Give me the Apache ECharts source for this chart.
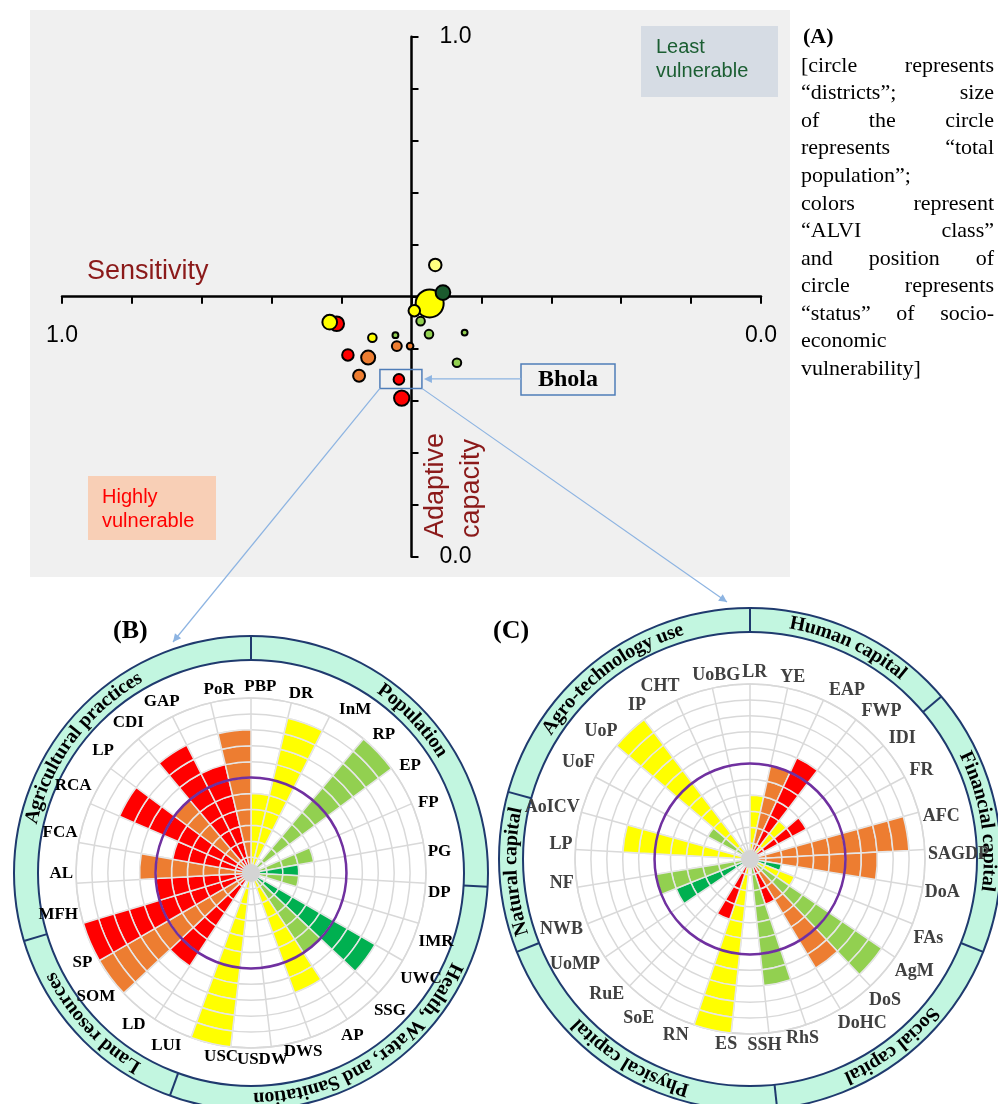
<!DOCTYPE html>
<html>
<head>
<meta charset="utf-8">
<script src="https://cdn.jsdelivr.net/npm/echarts@6/dist/echarts.min.js"></script>
<style>
html, body { margin: 0; padding: 0; background: #fff; }
#chart { width: 998px; height: 1104px; }
</style>
</head>
<body>
<div id="chart"></div>
<script>
// ======================
// DATA
// ======================

// (A) districts: sensitivity, adaptive capacity, population (million), ALVI class
const districtSens  = [0.466, 0.474, 0.455, 0.496, 0.487, 0.607, 0.617, 0.556, 0.523, 0.475, 0.424, 0.521, 0.502, 0.591, 0.562, 0.435, 0.575, 0.518, 0.514];
const districtAdapt = [0.561, 0.487, 0.508, 0.473, 0.453, 0.448, 0.451, 0.421, 0.426, 0.428, 0.431, 0.405, 0.405, 0.388, 0.383, 0.373, 0.348, 0.341, 0.305];
const districtPop   = [3.2, 16.0, 4.4, 2.7, 1.5, 4.4, 4.4, 1.5, 0.7, 1.5, 0.7, 2.0, 0.9, 2.7, 4.0, 1.5, 2.9, 2.3, 4.8];
const districtClass = ['LM', 'M', 'VL', 'M', 'L', 'VH', 'M', 'M', 'L', 'L', 'L', 'H', 'H', 'VH', 'H', 'L', 'H', 'VH', 'VH'];
const BHOLA = 17;

// (B) sensitivity indicators (score in rings of 11)
const labelsB = ['PBP', 'DR', 'InM', 'RP', 'EP', 'FP', 'PG', 'DP', 'IMR', 'UWC', 'SSG', 'AP', 'DWS', 'USDW',
                 'USC', 'LUI', 'LD', 'SOM', 'SP', 'MFH', 'AL', 'FCA', 'RCA', 'LP', 'CDI', 'GAP', 'PoR'];
const ringsB  = [5, 10, 0, 11, 0, 4, 3, 3, 0, 9, 6, 8, 0, 0, 11, 0, 7, 11, 11, 6, 7, 5, 9, 6, 9, 7, 9];
const classB  = ['M', 'M', '', 'L', '', 'L', 'VL', 'L', '', 'VL', 'L', 'M', '', '', 'M', '', 'VH', 'H', 'VH',
                 'VH', 'H', 'VH', 'VH', 'H', 'VH', 'VH', 'H'];
const groupsB     = ['Population', 'Health, Water, and Sanitation', 'Land resources', 'Agricultural practices'];
const groupStartB = [0, 7, 15, 19];

// (C) adaptive capacity indicators
const labelsC = ['LR', 'YE', 'EAP', 'FWP', 'IDI', 'FR', 'AFC', 'SAGDP', 'DoA', 'FAs', 'AgM', 'DoS', 'DoHC', 'RhS',
                 'SSH', 'ES', 'RN', 'SoE', 'RuE', 'UoMP', 'NWB', 'NF', 'LP', 'AoICV', 'UoF', 'UoP', 'IP', 'CHT', 'UoBG'];
const ringsC  = [4, 6, 7, 3, 4, 0, 10, 8, 2, 3, 10, 8, 3, 8, 0, 11, 4, 0, 0, 5, 6, 0, 8, 0, 3, 11, 0, 0, 0];
const classC  = ['M', 'H', 'VH', 'M', 'VH', '', 'H', 'H', 'VL', 'M', 'L', 'H', 'VH', 'L', '', 'M', 'VH', '', '',
                 'VL', 'L', '', 'M', '', 'L', 'M', '', '', ''];
const groupsC     = ['Human capital', 'Financial capital', 'Social capital', 'Physical capital', 'Natural capital', 'Agro-technology use'];
const groupStartC = [0, 4, 9, 14, 20, 23];

const RING_MAX = 11;
const THRESHOLD = 6;

const paraLines = ['[circle represents', '“districts”; size', 'of the circle', 'represents “total', 'population”;',
                   'colors represent', '“ALVI class”', 'and position of', 'circle represents', '“status” of socio-',
                   'economic', 'vulnerability]'];

// ======================
// STYLE
// ======================

const BAR_COLORS = { VH: '#FF0000', H: '#ED7D31', M: '#FFFF00', L: '#92D050', VL: '#00B050' };
const BUBBLE_COLORS = { VH: '#FF0000', H: '#ED7D31', M: '#FFFF00', LM: '#FFFF80', L: '#92D050', VL: '#1B5B2E' };
const DARK_RED = '#8B1A1A';
const SERIF = '"Liberation Serif", "Times New Roman", serif';
const SANS = '"Liberation Sans", Arial, sans-serif';
const GRID_GRAY = '#D9D9D9';
const NAVY = '#1F3A6E';
const MINT = '#C2F6E0';

const PANEL_B = { center: [251, 873], band: [213, 237], labelColor: '#000', labelSize: 17, shift: 3, textR: 225 };
const PANEL_C = { center: [750, 859], band: [227, 251], labelColor: '#404040', labelSize: 18, shift: 1.5, textR: 239 };
const POLAR_R = 175;

const chart = echarts.init(document.getElementById('chart'));
const mctx = document.createElement('canvas').getContext('2d');

// ======================
// POLAR PANELS
// ======================

const polar = [], angleAxis = [], radiusAxis = [], series = [];

function addPolarPanel(panel, labels, rings, classes, stackName) {
    const barIdx = polar.length;
    polar.push({ center: panel.center, radius: POLAR_R }, { center: panel.center, radius: POLAR_R });

    angleAxis.push({
        polarIndex: barIdx, type: 'category', data: labels, boundaryGap: true, startAngle: 90,
        axisLine: { lineStyle: { color: GRID_GRAY, width: 1.5 } },
        axisTick: { show: false }, axisLabel: { show: false },
        splitLine: { show: true, lineStyle: { color: GRID_GRAY, width: 1.5 } }
    }, {
        polarIndex: barIdx + 1, type: 'category', data: labels, boundaryGap: false,
        startAngle: 90 - panel.shift, z: 30,
        axisLine: { show: false }, axisTick: { show: false }, splitLine: { show: false },
        axisLabel: {
            interval: 0, margin: 3, color: panel.labelColor, fontFamily: SERIF,
            fontWeight: 'bold', fontSize: panel.labelSize
        }
    });

    radiusAxis.push({
        polarIndex: barIdx, type: 'value', min: 0, max: RING_MAX, interval: 1,
        axisLine: { show: false }, axisTick: { show: false }, axisLabel: { show: false },
        splitLine: { show: true, lineStyle: { color: GRID_GRAY, width: 1.5 } }
    }, {
        polarIndex: barIdx + 1, type: 'value', min: 0, max: RING_MAX, show: false
    });

    // each ring is one stacked segment, as in the original doughnut layout
    for (let j = 0; j < RING_MAX; j++) {
        series.push({
            type: 'bar', coordinateSystem: 'polar', polarIndex: barIdx, stack: stackName,
            barCategoryGap: '0%', silent: true,
            itemStyle: { borderColor: '#E6E6E6', borderWidth: 1.5 },
            data: rings.map((v, i) => v > j
                ? { value: 1, itemStyle: { color: BAR_COLORS[classes[i]] } }
                : '-')
        });
    }
    return barIdx;
}

const polarB = addPolarPanel(PANEL_B, labelsB, ringsB, classB, 'B');
const polarC = addPolarPanel(PANEL_C, labelsC, ringsC, classC, 'C');

// ======================
// SCATTER (A)
// ======================

const axisFormatter = v => (v < 0.001 || v > 0.999) ? v.toFixed(1) : '';

series.push({
    type: 'scatter',
    xAxisIndex: 0, yAxisIndex: 0, z: 5,
    data: districtSens.map((s, i) => [s, districtAdapt[i], districtPop[i], districtClass[i]]),
    symbolSize: v => 7 * Math.sqrt(v[2]),
    itemStyle: {
        color: p => BUBBLE_COLORS[p.data[3]],
        borderColor: '#000', borderWidth: 2, opacity: 1
    }
});
const scatterIdx = series.length - 1;

const option = {
    animation: false,
    backgroundColor: '#fff',
    grid: { left: 62, right: 237, top: 36.7, bottom: 547.3, outerBoundsMode: 'none', containLabel: false },
    xAxis: {
        type: 'value', min: 0, max: 1, interval: 0.1, inverse: true,
        position: 'bottom', offset: -260,
        axisLine: { onZero: false, lineStyle: { color: '#000', width: 2.5 } },
        axisTick: { length: 7, lineStyle: { color: '#000', width: 2 } },
        axisLabel: { formatter: axisFormatter, showMinLabel: true, showMaxLabel: true, margin: 27,
                     color: '#000', fontFamily: SANS, fontSize: 23 },
        splitLine: { show: false }
    },
    yAxis: {
        type: 'value', min: 0, max: 1, interval: 0.1,
        position: 'left', offset: -349.5,
        axisLine: { onZero: false, lineStyle: { color: '#000', width: 2.5 } },
        axisTick: { inside: true, length: 7, lineStyle: { color: '#000', width: 2 } },
        axisLabel: { inside: true, formatter: axisFormatter, showMinLabel: true, showMaxLabel: true, margin: 28,
                     color: '#000', fontFamily: SANS, fontSize: 23 },
        splitLine: { show: false }
    },
    polar, angleAxis, radiusAxis, series
};

chart.setOption(option);

// ======================
// ANNOTATIONS
// ======================

function textEl(x, y, text, font, fill, extra) {
    return Object.assign({
        type: 'text', x, y, z: 20,
        style: { text, font, fill, align: 'left', verticalAlign: 'middle' }
    }, extra || {});
}

function arrowHead(tip, from, color) {
    const a = Math.atan2(tip[1] - from[1], tip[0] - from[0]);
    const L = 8, W = 4;
    const bx = tip[0] - L * Math.cos(a), by = tip[1] - L * Math.sin(a);
    return {
        type: 'polygon', z: 20,
        shape: { points: [tip, [bx + W * Math.sin(a), by - W * Math.cos(a)], [bx - W * Math.sin(a), by + W * Math.cos(a)]] },
        style: { fill: color }
    };
}

function arcText(cx, cy, R, midDeg, text, font, fill) {
    mctx.font = font;
    const chars = [...text];
    const widths = chars.map(ch => mctx.measureText(ch).width);
    const total = widths.reduce((a, b) => a + b, 0);
    let acc = -total / 2;
    return chars.map((ch, k) => {
        const ang = midDeg * Math.PI / 180 + (acc + widths[k] / 2) / R;
        acc += widths[k];
        return {
            type: 'text', z: 22, x: cx + R * Math.sin(ang), y: cy - R * Math.cos(ang), rotation: -ang,
            style: { text: ch, font, fill, align: 'center', verticalAlign: 'middle' }
        };
    });
}

function bandEls(panel, labels, groups, starts, polarIndex) {
    const [cx, cy] = panel.center;
    const step = 360 / labels.length;
    const els = [];
    els.push({
        type: 'ring', z: 1, shape: { cx, cy, r: panel.band[1], r0: panel.band[0] },
        style: { fill: MINT, stroke: NAVY, lineWidth: 2 }
    });
    starts.forEach((s, g) => {
        const a0 = s * step;
        const a1 = (g + 1 < starts.length ? starts[g + 1] : labels.length) * step;
        const rad = a0 * Math.PI / 180;
        els.push({
            type: 'line', z: 2,
            shape: {
                x1: cx + panel.band[0] * Math.sin(rad), y1: cy - panel.band[0] * Math.cos(rad),
                x2: cx + panel.band[1] * Math.sin(rad), y2: cy - panel.band[1] * Math.cos(rad)
            },
            style: { stroke: NAVY, lineWidth: 2 }
        });
        els.push(...arcText(cx, cy, panel.textR, (a0 + a1) / 2, groups[g], 'bold 20px ' + SERIF, '#000'));
    });
    // threshold ring and hub
    const p = chart.convertToPixel({ polarIndex }, [THRESHOLD, 0]);
    const rT = p ? Math.hypot(p[0] - cx, p[1] - cy) : POLAR_R * THRESHOLD / RING_MAX;
    els.push({
        type: 'circle', z: 12, shape: { cx, cy, r: rT },
        style: { fill: 'none', stroke: '#7030A0', lineWidth: 2.5 }
    });
    els.push({ type: 'circle', z: 12, shape: { cx, cy, r: 9 }, style: { fill: '#D4D4D4' } });
    return els;
}

const graphic = [];

// panel A background and boxes
graphic.push({ type: 'rect', z: -5, shape: { x: 30, y: 10, width: 760, height: 567 }, style: { fill: '#F0F0F0' } });
graphic.push({ type: 'rect', z: 1, shape: { x: 641, y: 26, width: 137, height: 71 }, style: { fill: '#D6DCE4' } });
graphic.push(textEl(656, 47, 'Least', '20px ' + SANS, '#1B5E32'));
graphic.push(textEl(656, 71, 'vulnerable', '20px ' + SANS, '#1B5E32'));
graphic.push({ type: 'rect', z: 1, shape: { x: 88, y: 476, width: 128, height: 64 }, style: { fill: '#F8CFB6' } });
graphic.push(textEl(102, 497, 'Highly', '20px ' + SANS, '#FF0000'));
graphic.push(textEl(102, 521, 'vulnerable', '20px ' + SANS, '#FF0000'));

// axis titles
graphic.push(textEl(87, 272, 'Sensitivity', '27px ' + SANS, DARK_RED));
graphic.push(textEl(436, 538, 'Adaptive', '27px ' + SANS, DARK_RED, { rotation: Math.PI / 2 }));
graphic.push(textEl(472, 538, 'capacity', '27px ' + SANS, DARK_RED, { rotation: Math.PI / 2 }));

// Bhola call-out
const bh = chart.convertToPixel({ seriesIndex: scatterIdx }, [districtSens[BHOLA], districtAdapt[BHOLA]]);
const bx0 = bh[0] - 19, bx1 = bh[0] + 23, by0 = bh[1] - 10, by1 = bh[1] + 9;
const BLUE = '#4F7DB8', LIGHT_BLUE = '#8DB4E2';
graphic.push({ type: 'rect', z: 21, shape: { x: bx0, y: by0, width: bx1 - bx0, height: by1 - by0 },
               style: { fill: 'none', stroke: BLUE, lineWidth: 1.5 } });
graphic.push({ type: 'rect', z: 21, shape: { x: 521, y: 364, width: 94, height: 31 },
               style: { fill: 'none', stroke: BLUE, lineWidth: 1.5 } });
graphic.push(textEl(568, 380, 'Bhola', 'bold 24px ' + SERIF, '#000', { style: { text: 'Bhola', font: 'bold 24px ' + SERIF, fill: '#000', align: 'center', verticalAlign: 'middle' } }));
const calloutTip = [bx1 + 2, (by0 + by1) / 2];
graphic.push({ type: 'line', z: 21, shape: { x1: 521, y1: calloutTip[1], x2: calloutTip[0] + 6, y2: calloutTip[1] },
               style: { stroke: LIGHT_BLUE, lineWidth: 1.2 } });
graphic.push(arrowHead(calloutTip, [521, calloutTip[1]], LIGHT_BLUE));
const tipB = [173, 642], tipC = [727, 602];
graphic.push({ type: 'line', z: 21, shape: { x1: bx0, y1: by1, x2: tipB[0], y2: tipB[1] },
               style: { stroke: LIGHT_BLUE, lineWidth: 1.2 } });
graphic.push(arrowHead(tipB, [bx0, by1], LIGHT_BLUE));
graphic.push({ type: 'line', z: 21, shape: { x1: bx1, y1: by1, x2: tipC[0], y2: tipC[1] },
               style: { stroke: LIGHT_BLUE, lineWidth: 1.2 } });
graphic.push(arrowHead(tipC, [bx1, by1], LIGHT_BLUE));

// (A) caption, justified like the original text box
graphic.push(textEl(803, 37, '(A)', 'bold 22px ' + SERIF, '#000'));
(function () {
    const font = '22px ' + SERIF, x0 = 801, x1 = 994, y0 = 66, lh = 27.55;
    mctx.font = font;
    paraLines.forEach((line, i) => {
        const words = line.split(' ');
        const y = y0 + i * lh;
        const widths = words.map(w => mctx.measureText(w).width);
        const justify = words.length > 1 && i < paraLines.length - 1;
        const gap = justify ? (x1 - x0 - widths.reduce((a, b) => a + b, 0)) / (words.length - 1) : mctx.measureText(' ').width;
        let x = x0;
        words.forEach((w, k) => {
            graphic.push(textEl(x, y, w, font, '#000'));
            x += widths[k] + gap;
        });
    });
})();

// panel letters
graphic.push(textEl(113, 631, '(B)', 'bold 26px ' + SERIF, '#000'));
graphic.push(textEl(493, 631, '(C)', 'bold 26px ' + SERIF, '#000'));

graphic.push(...bandEls(PANEL_B, labelsB, groupsB, groupStartB, polarB));
graphic.push(...bandEls(PANEL_C, labelsC, groupsC, groupStartC, polarC));

chart.setOption({ graphic });
</script>
</body>
</html>
